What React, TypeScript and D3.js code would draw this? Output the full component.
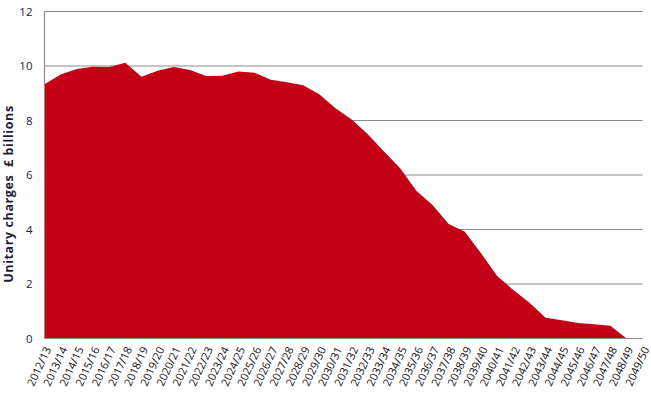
import React from "react";
import * as d3 from "d3";

const years: string[] = [
  "2012/13","2013/14","2014/15","2015/16","2016/17","2017/18","2018/19","2019/20",
  "2020/21","2021/22","2022/23","2023/24","2024/25","2025/26","2026/27","2027/28",
  "2028/29","2029/30","2030/31","2031/32","2032/33","2033/34","2034/35","2035/36",
  "2036/37","2037/38","2038/39","2039/40","2040/41","2041/42","2042/43","2043/44",
  "2044/45","2045/46","2046/47","2047/48","2048/49","2049/50",
];

const unitaryCharges: number[] = [
  9.33, 9.69, 9.89, 9.97, 9.96, 10.12, 9.61, 9.83,
  9.96, 9.85, 9.63, 9.64, 9.8, 9.75, 9.5, 9.4,
  9.29, 8.96, 8.45, 8.04, 7.5, 6.86, 6.25, 5.42,
  4.9, 4.2, 3.92, 3.13, 2.29, 1.78, 1.31, 0.76,
  0.67, 0.57, 0.52, 0.47, 0.0, 0.0,
];

const yTicks: number[] = [0, 2, 4, 6, 8, 10, 12];

const W = 651;
const H = 395;
const left = 44.5;
const right = 642.7;
const top = 11.5;
const bottom = 338.5;

const RED = "#c30016";
const GRID = "#8c8c8c";
const TXT = "#1c1c3c";
const FONT = "'Open Sans', 'Noto Sans', sans-serif";

export default function App() {
  const x = d3.scalePoint<string>().domain(years).range([left, right]).padding(0);
  const y = d3.scaleLinear().domain([0, 12]).range([bottom, top]);
  const data = years.map((yr, i) => ({ yr, v: unitaryCharges[i] }));
  const area = d3
    .area<{ yr: string; v: number }>()
    .x((d) => x(d.yr) as number)
    .y0(y(0))
    .y1((d) => y(d.v));

  return (
    <svg
      width={W}
      height={H}
      style={{ position: "absolute", left: 0, top: 0, display: "block" }}
      fontFamily={FONT}
    >
      <rect x={0} y={0} width={W} height={H} fill="#fff" />
      {yTicks.filter((t) => t > 0).map((t) => (
        <line key={t} x1={left} x2={right} y1={y(t)} y2={y(t)} stroke={GRID} strokeWidth={1} />
      ))}
      <path d={area(data) || ""} fill={RED} />
      <line x1={left} x2={left} y1={top} y2={bottom} stroke={GRID} strokeWidth={1.2} />
      <line x1={left} x2={right} y1={bottom} y2={bottom} stroke={GRID} strokeWidth={1.2} />
      {yTicks.map((t) => (
        <text
          key={t}
          x={32.5}
          y={y(t)}
          dy="0.35em"
          textAnchor="end"
          fontSize={11.5}
          fill={TXT}
        >
          {t}
        </text>
      ))}
      {years.map((yr) => (
        <text
          key={yr}
          transform={`translate(${(x(yr) as number) + 3.5},${bottom + 9}) rotate(-65)`}
          textAnchor="end"
          dy="0.35em"
          fontSize={11}
          fill="#111"
        >
          {yr}
        </text>
      ))}
      <text
        transform={`translate(13,194) rotate(-90)`}
        textAnchor="middle"
        fontSize={12.5}
        letterSpacing={0.6}
        fontWeight="bold"
        fill={TXT}
      >
        {"Unitary charges\u00a0\u00a0£ billions"}
      </text>
    </svg>
  );
}
